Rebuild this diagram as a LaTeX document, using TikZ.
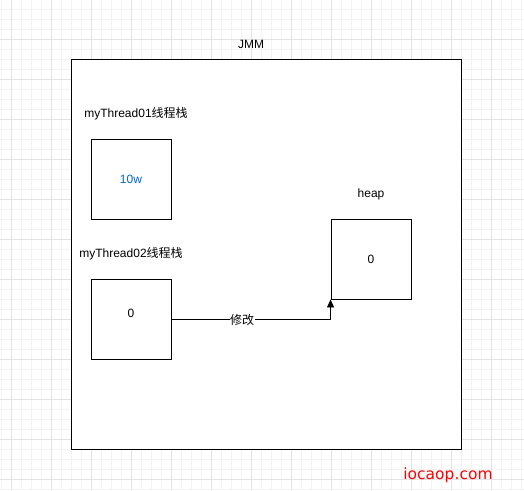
\documentclass[tikz,border=0pt]{standalone}
\usepackage{fontspec}
\setmainfont{Liberation Sans}
\newfontfamily\cjk{Noto Sans CJK SC}
\newfontfamily\wmfont{DejaVu Sans}
\usetikzlibrary{arrows.meta}
\definecolor{gridminor}{HTML}{F3F3F3}
\definecolor{gridmajor}{HTML}{E3E3E3}
\definecolor{txtblue}{HTML}{0066CC}
\tikzset{
  box/.style={draw=black, line width=0.9pt, minimum width=80pt, minimum height=80pt, inner sep=0pt, font=\fontsize{12}{14}\selectfont},
  lbl/.style={font=\fontsize{12}{14}\selectfont, inner sep=1pt},
  conn/.style={draw=black, line width=0.9pt, -{Triangle[width=7pt,length=8pt]}},
}
\begin{document}
\begin{tikzpicture}[x=1pt,y=-1pt]
\useasboundingbox (0,0) rectangle (524,490);
\fill[white] (0,0) rectangle (524,490);
% grid
\foreach \i in {0,...,52} {\draw[gridminor, line width=0.8pt] (1+10*\i,0) -- (1+10*\i,490);}
\foreach \j in {0,...,48} {\draw[gridminor, line width=0.8pt] (0,9+10*\j) -- (524,9+10*\j);}
\foreach \i in {0,...,12} {\draw[gridmajor, line width=0.8pt] (11+40*\i,0) -- (11+40*\i,490);}
\foreach \j in {0,...,11} {\draw[gridmajor, line width=0.8pt] (0,39+40*\j) -- (524,39+40*\j);}
% outer JMM frame
\node[box, fill=white, minimum width=390pt, minimum height=390pt] (jmm) at (266,254) {};
\node[lbl] (jmmlbl) at (251,44) {JMM};
% thread 1
\node[lbl] (t1lbl) at (136,114) {myThread01{\cjk 线程栈}};
\node[box, fill=white] (t1) at (131,179) {};
\node[lbl, text=txtblue] (t1txt) at (t1.center) {10w};
% thread 2
\node[lbl] (t2lbl) at (131,254) {myThread02{\cjk 线程栈}};
\node[box, fill=white] (t2) at (131,319) {};
\node[lbl] (t2txt) at (131,313) {0};
% heap
\node[lbl] (heaplbl) at (371,194) {heap};
\node[box, fill=white] (heap) at (371,259) {0};
% connector
\coordinate (turn) at (heap.south west |- t2.east);
\draw[conn] (t2.east) -- (turn) -- (heap.south west);
\node[lbl, fill=white, inner sep=0.5pt] (modlbl) at (242,320) {\cjk 修改};
% watermark
\node[font=\wmfont\fontsize{15.5}{18}\selectfont, text={rgb,255:red,255;green,0;blue,0}] (wm) at (448,475) {iocaop.com};
\end{tikzpicture}
\end{document}
